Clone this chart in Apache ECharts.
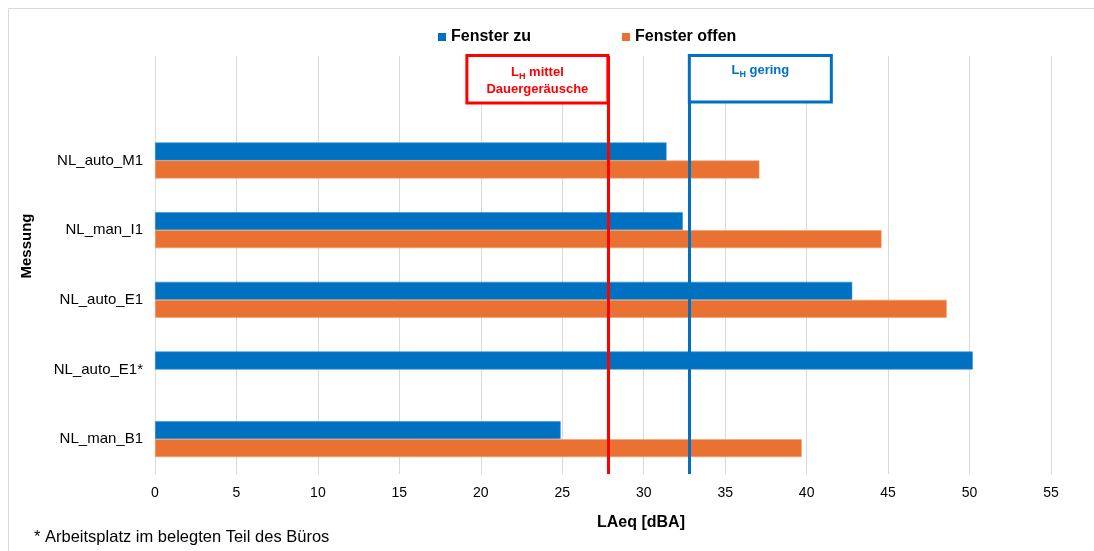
<!DOCTYPE html>
<html>
<head>
<meta charset="utf-8">
<script src="https://cdn.jsdelivr.net/npm/echarts@6/dist/echarts.min.js"></script>
<style>
  html, body { margin: 0; padding: 0; background: #ffffff; }
  #chart { width: 1094px; height: 551px; }
</style>
</head>
<body>
<div id="chart"></div>
<script>
// Measurements (top row left empty to leave room for the threshold labels)
const categories = ['', 'NL_auto_M1', 'NL_man_I1', 'NL_auto_E1', 'NL_auto_E1*', 'NL_man_B1'];
const fensterZu = [null, 31.4, 32.4, 42.8, 50.2, 24.9];
const fensterOffen = [null, 37.1, 44.6, 48.6, null, 39.7];

// x axis range and tick step
const xMin = 0;
const xMax = 55;
const xStep = 5;

// Threshold lines
const lhMittel = 27.8;
const lhGering = 32.8;

const BLUE = '#0070C0';
const ORANGE = '#E97132';
const RED = '#FF0000';
const FONT = '"Liberation Sans", Arial, sans-serif';

const chart = echarts.init(document.getElementById('chart'), null, { renderer: 'canvas' });

const option = {
  backgroundColor: '#ffffff',
  animation: false,
  grid: { left: 155, right: 43, top: 56, bottom: 77, containLabel: false },
  legend: {
    data: ['Fenster zu', 'Fenster offen'],
    left: 433,
    top: 24,
    icon: 'rect',
    itemWidth: 8,
    itemHeight: 8,
    itemGap: 91,
    itemStyle: { borderWidth: 0 },
    textStyle: { fontFamily: FONT, fontSize: 16, fontWeight: 'bold', color: '#000000', padding: [0, 0, 5, 0] }
  },
  xAxis: {
    type: 'value',
    min: xMin,
    max: xMax,
    interval: xStep,
    axisLine: { show: false },
    axisTick: { show: false },
    axisLabel: { fontFamily: FONT, fontSize: 14, color: '#000000', margin: 12 },
    splitLine: { show: true, lineStyle: { color: '#D9D9D9', width: 1 } }
  },
  yAxis: {
    type: 'category',
    data: categories,
    inverse: true,
    axisLine: { show: false },
    axisTick: { show: false },
    axisLabel: { fontFamily: FONT, fontSize: 15, color: '#000000', margin: 12 },
    splitLine: { show: false }
  },
  series: [
    {
      name: 'Fenster zu',
      type: 'bar',
      data: fensterZu,
      barWidth: 18,
      barGap: '0%',
      itemStyle: { color: BLUE, borderColor: '#3d8fd0', borderWidth: 0.6 },
      markLine: {
        silent: true,
        symbol: ['none', 'none'],
        label: { show: false },
        data: [
          { xAxis: lhMittel, lineStyle: { color: RED, width: 3, type: 'solid' } },
          { xAxis: lhGering, lineStyle: { color: BLUE, width: 3, type: 'solid' } }
        ]
      }
    },
    {
      name: 'Fenster offen',
      type: 'bar',
      data: fensterOffen,
      barWidth: 18,
      barGap: '0%',
      itemStyle: { color: ORANGE, borderColor: '#f0a070', borderWidth: 0.6 }
    }
  ]
};

chart.setOption(option);

// Label boxes attached to the threshold lines
const pxMittel = chart.convertToPixel({ xAxisIndex: 0 }, lhMittel);
const pxGering = chart.convertToPixel({ xAxisIndex: 0 }, lhGering);
const boxW = 141;
const boxTop = 55.5;
const boxH = 47.5;

chart.setOption({
  graphic: [
    {
      type: 'rect',
      silent: true,
      shape: { x: 8.5, y: 8.5, width: 1100, height: 560 },
      style: { fill: 'none', stroke: '#D9D9D9', lineWidth: 1 },
      z: 0
    },
    {
      type: 'rect',
      silent: true,
      shape: { x: pxMittel - boxW, y: boxTop, width: boxW, height: boxH },
      style: { fill: '#ffffff', stroke: RED, lineWidth: 3 },
      z: 100
    },
    {
      type: 'text',
      silent: true,
      x: pxMittel - boxW / 2,
      y: 64,
      z: 101,
      style: {
        text: '{t|L}{s|H}{t| mittel}\n{t|Dauergeräusche}',
        align: 'center',
        verticalAlign: 'top',
        rich: {
          t: { fontFamily: FONT, fontSize: 13, fontWeight: 'bold', fill: RED, lineHeight: 17 },
          s: { fontFamily: FONT, fontSize: 9, fontWeight: 'bold', fill: RED, lineHeight: 17, verticalAlign: 'bottom', padding: [6, 0, 0, 0] }
        }
      }
    },
    {
      type: 'rect',
      silent: true,
      shape: { x: pxGering, y: boxTop, width: boxW + 1, height: boxH - 1 },
      style: { fill: '#ffffff', stroke: BLUE, lineWidth: 3 },
      z: 100
    },
    {
      type: 'text',
      silent: true,
      x: pxGering + (boxW + 1) / 2,
      y: 62,
      z: 101,
      style: {
        text: '{t|L}{s|H}{t| gering}',
        align: 'center',
        verticalAlign: 'top',
        rich: {
          t: { fontFamily: FONT, fontSize: 13, fontWeight: 'bold', fill: BLUE, lineHeight: 17 },
          s: { fontFamily: FONT, fontSize: 9, fontWeight: 'bold', fill: BLUE, lineHeight: 17, verticalAlign: 'bottom', padding: [6, 0, 0, 0] }
        }
      }
    },
    {
      type: 'text',
      silent: true,
      x: 27,
      y: 246,
      rotation: Math.PI / 2,
      style: {
        text: 'Messung',
        fontFamily: FONT,
        fontSize: 15,
        fontWeight: 'bold',
        fill: '#000000',
        align: 'center',
        verticalAlign: 'middle'
      }
    },
    {
      type: 'text',
      silent: true,
      x: 641,
      y: 523,
      style: {
        text: 'LAeq [dBA]',
        fontFamily: FONT,
        fontSize: 16,
        fontWeight: 'bold',
        fill: '#000000',
        align: 'center',
        verticalAlign: 'middle'
      }
    },
    {
      type: 'text',
      silent: true,
      x: 34,
      y: 537,
      style: {
        text: '* Arbeitsplatz im belegten Teil des Büros',
        fontFamily: FONT,
        fontSize: 16.5,
        fill: '#000000',
        align: 'left',
        verticalAlign: 'middle'
      }
    }
  ]
});
</script>
</body>
</html>
